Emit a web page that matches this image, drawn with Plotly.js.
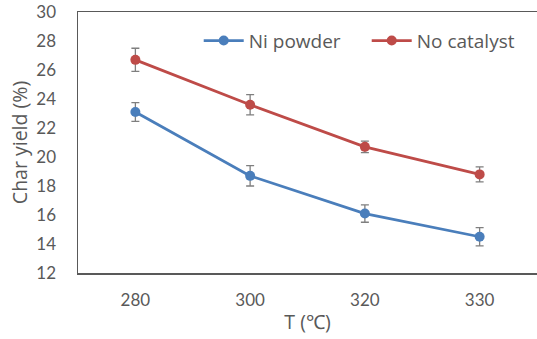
<!DOCTYPE html>
<html><head><meta charset="utf-8">
<script src="https://cdn.plot.ly/plotly-3.0.1.min.js"></script>
<style>html,body{margin:0;padding:0;background:#fff}</style>
</head><body>
<div id="chart" style="width:537px;height:339px"></div>
<script>
const categories = ['280', '300', '320', '330'];
const niPowder = [23.1, 18.7, 16.1, 14.5];
const niPowderErr = [0.65, 0.7, 0.6, 0.63];
const noCatalyst = [26.7, 23.6, 20.7, 18.8];
const noCatalystErr = [0.8, 0.7, 0.4, 0.52];
const yTicks = [12, 14, 16, 18, 20, 22, 24, 26, 28, 30];

const FONT = 'Lato, "Open Sans", sans-serif';
const TFONT = '"Open Sans", Lato, sans-serif';
function series(name, y, err, color, legendId) {
  return {
    type: 'scatter', mode: 'lines+markers', name: name, legend: legendId,
    x: categories, y: y,
    line: {color: color, width: 2.8},
    marker: {color: color, size: 10},
    error_y: {type: 'data', array: err, visible: true, color: '#7f7f7f', thickness: 1.3, width: 4}
  };
}
const data = [
  series('Ni powder', niPowder, niPowderErr, '#4A7EBB', 'legend'),
  series('No catalyst', noCatalyst, noCatalystErr, '#BE4B48', 'legend2')
];
function leg(x) {
  return {orientation: 'h', x: x, y: 0.89, xanchor: 'left', yanchor: 'middle',
          font: {family: TFONT, size: 19, color: '#595959'}, bgcolor: 'rgba(0,0,0,0)',
          itemwidth: 40};
}
const layout = {
  width: 537, height: 339,
  margin: {l: 78, r: 0, t: 12, b: 66},
  paper_bgcolor: '#fff', plot_bgcolor: '#fff',
  font: {family: FONT, color: '#595959', size: 15},
  showlegend: true,
  legend: leg(0.263),
  legend2: leg(0.629),
  xaxis: {
    type: 'category', range: [-0.5, 3.5],
    showline: true, linecolor: '#595959', linewidth: 1.5, mirror: true,
    showgrid: false, zeroline: false, ticks: '',
    ticklabelstandoff: 11,
    tickfont: {family: FONT, size: 17, color: '#595959'},
    title: {text: 'T (℃)', font: {family: TFONT, size: 19.5, color: '#595959'}, standoff: 6}
  },
  yaxis: {
    range: [12, 30], tickvals: yTicks, ticktext: yTicks.map(String),
    showline: true, linecolor: '#595959', linewidth: 1.5,
    showgrid: false, zeroline: false, ticks: '',
    ticklabelstandoff: 17,
    tickfont: {family: FONT, size: 17, color: '#595959'},
    title: {text: 'Char yield (%)', font: {family: TFONT, size: 19.5, color: '#595959'}, standoff: 3}
  }
};
Plotly.newPlot('chart', data, layout, {displayModeBar: false, staticPlot: true});
</script>
</body></html>
